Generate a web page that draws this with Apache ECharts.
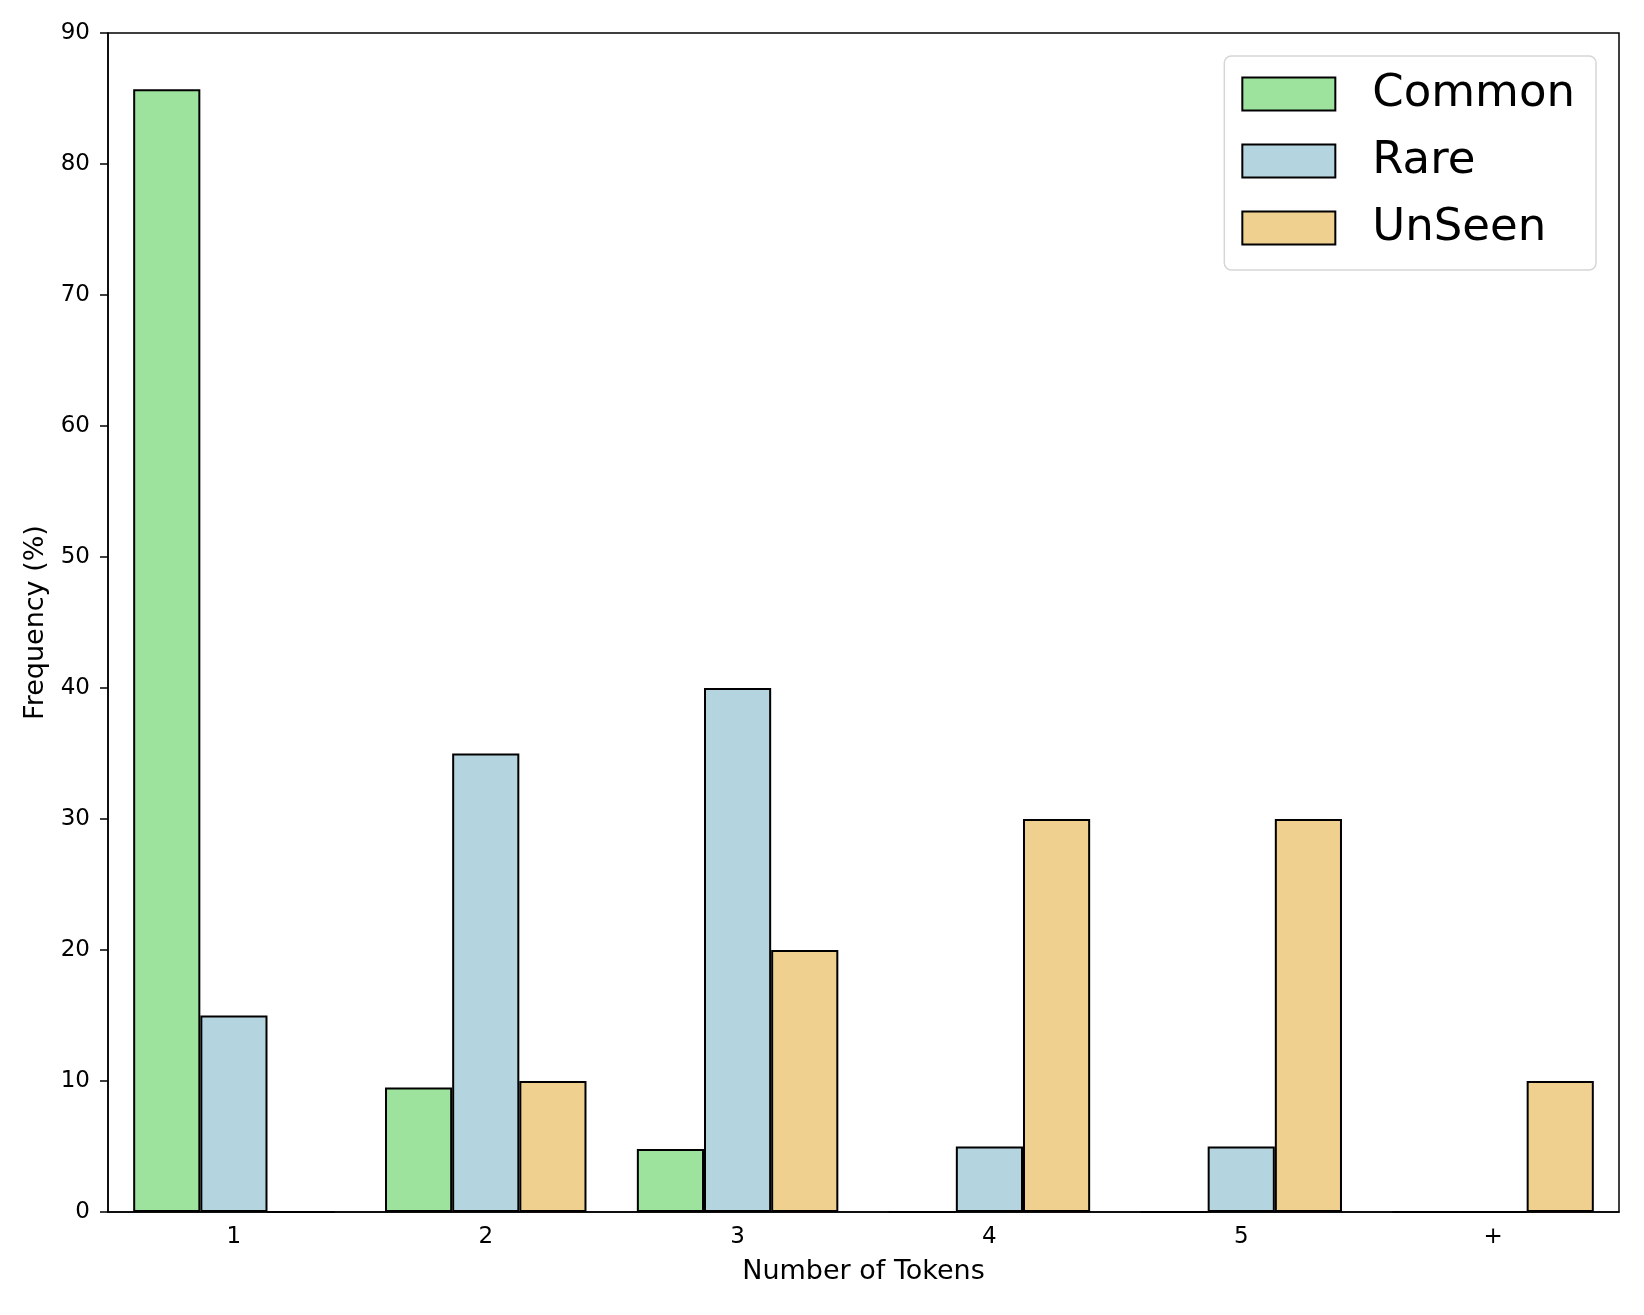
<!DOCTYPE html>
<html>
<head>
<meta charset="utf-8">
<script src="https://cdn.jsdelivr.net/npm/echarts@6/dist/echarts.min.js"></script>
<style>html,body{margin:0;padding:0;background:#fff}#c{width:1644px;height:1315px}</style>
</head>
<body>
<div id="c"></div>
<script>
const categories = ['1', '2', '3', '4', '5', '+'];
const common = [85.7, 9.5, 4.8, 0, 0, 0];
const rare = [15, 35, 40, 5, 5, 0];
const unseen = [0, 10, 20, 30, 30, 10];
const yTicks = { min: 0, max: 90, interval: 10 };

const chart = echarts.init(document.getElementById('c'));
const font = 'DejaVu Sans';
function bar(name, data, color) {
  return {
    name: name, type: 'bar', data: data,
    barGap: '0%', barCategoryGap: '20%',
    itemStyle: { color: color, borderColor: '#000', borderWidth: 2 },
    emphasis: { disabled: true }
  };
}
chart.setOption({
  animation: false,
  textStyle: { fontFamily: font },
  grid: { left: 108, right: 25, top: 33, bottom: 103, show: true, borderColor: '#000', borderWidth: 1.5, backgroundColor: 'transparent' },
  legend: {
    orient: 'vertical', right: 48, top: 56,
    padding: [13, 21, 17, 17],
    backgroundColor: '#fff', borderColor: '#d6d6d6', borderWidth: 1.5, borderRadius: 7,
    itemWidth: 93, itemHeight: 33, itemGap: 17,
    icon: 'rect',
    textStyle: { fontSize: 45, color: '#000', fontFamily: font, padding: [0, 0, 0, 32], lineHeight: 50 },
    data: ['Common', 'Rare', 'UnSeen']
  },
  xAxis: {
    type: 'category', data: categories,
    name: 'Number of Tokens', nameLocation: 'middle', nameGap: 46,
    nameTextStyle: { fontSize: 27, color: '#000', fontFamily: font },
    axisLine: { lineStyle: { color: '#000', width: 1.5 } },
    axisTick: { alignWithLabel: true, length: 8, lineStyle: { color: '#000', width: 1.5 } },
    axisLabel: { fontSize: 23, color: '#000', margin: 14, fontFamily: font },
    splitLine: { show: false }
  },
  yAxis: {
    type: 'value', min: yTicks.min, max: yTicks.max, interval: yTicks.interval,
    name: 'Frequency (%)', nameLocation: 'middle', nameGap: 51,
    nameTextStyle: { fontSize: 27, color: '#000', fontFamily: font },
    axisLine: { show: true, lineStyle: { color: '#000', width: 1.5 } },
    axisTick: { show: true, length: 8, lineStyle: { color: '#000', width: 1.5 } },
    axisLabel: { fontSize: 23, color: '#000', margin: 18, fontFamily: font },
    splitLine: { show: false }
  },
  series: [
    bar('Common', common, '#9de39d'),
    bar('Rare', rare, '#b4d5df'),
    bar('UnSeen', unseen, '#efd08f')
  ]
});
</script>
</body>
</html>
